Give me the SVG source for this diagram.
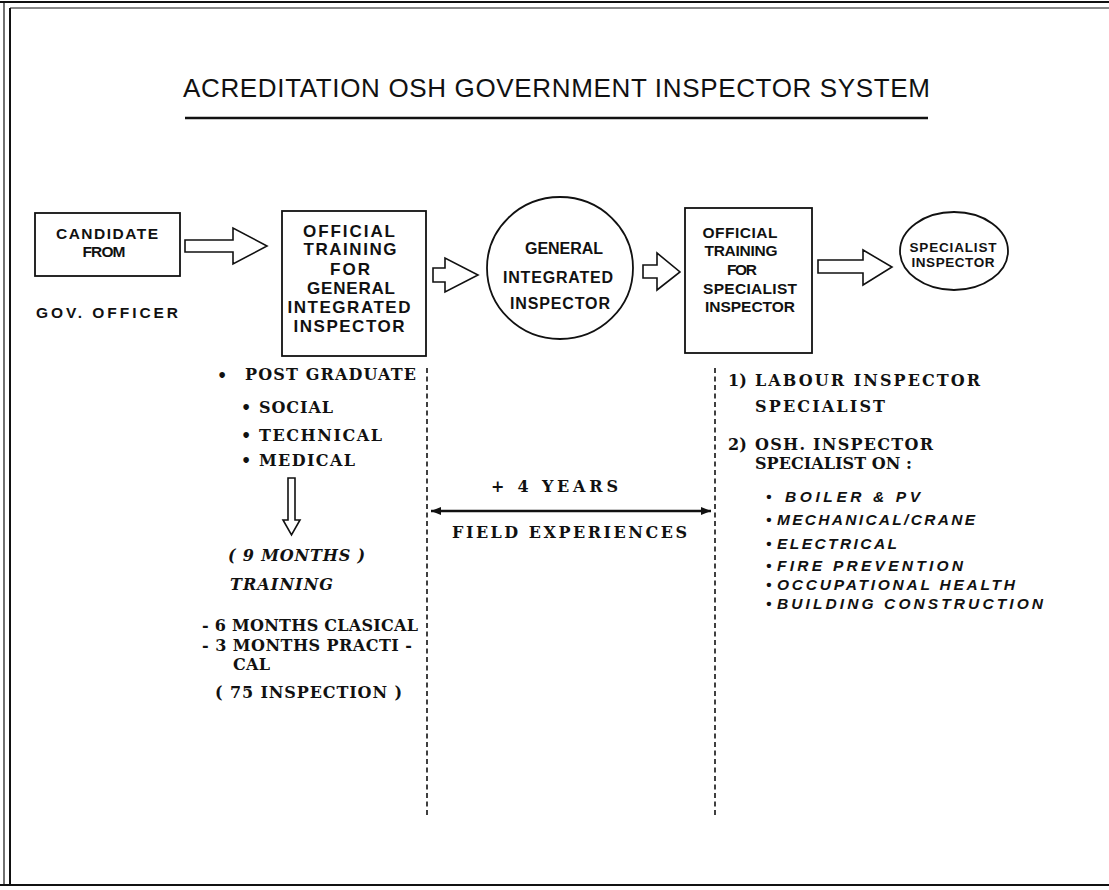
<svg xmlns="http://www.w3.org/2000/svg" width="1109" height="890" viewBox="0 0 1109 890">
  <defs>
    <style>
      .bg { fill: #ffffff; }
      .frame { stroke: #111; fill: none; }
      .box { fill: #ffffff; stroke: #111; stroke-width: 1.8; }
      .block { fill: #ffffff; stroke: #111; stroke-width: 1.6; stroke-linejoin: miter; }
      .sans { font-family: "Liberation Sans", Arial, sans-serif; font-weight: bold; fill: #111; }
      .title { font-family: "Liberation Sans", Arial, sans-serif; font-weight: normal; font-size: 26px; fill: #111; }
      .serif { font-family: "DejaVu Serif", "Liberation Serif", serif; font-weight: bold; font-size: 16px; fill: #111; }
      .serif-it { font-family: "DejaVu Serif", "Liberation Serif", serif; font-weight: bold; font-style: italic; font-size: 16px; fill: #111; }
      .list { font-family: "Liberation Sans", Arial, sans-serif; font-weight: bold; font-style: italic; font-size: 15.5px; fill: #111; }
      .divider { stroke: #111; stroke-width: 1.6; stroke-dasharray: 5 3.5; fill: none; }
      .span { stroke: #111; stroke-width: 2.4; fill: none; }
    </style>
    <marker id="head" viewBox="0 0 10 8" refX="10" refY="4" markerWidth="10" markerHeight="8" orient="auto-start-reverse" markerUnits="userSpaceOnUse">
      <path d="M0,0 L10,4 L0,8 z" fill="#111"/>
    </marker>
  </defs>

  <rect class="bg" x="0" y="0" width="1109" height="890"/>

  <!-- page frame -->
  <g id="frame">
    <line class="frame" x1="0" y1="2" x2="1109" y2="2" stroke-width="2"/>
    <line class="frame" x1="4" y1="2" x2="4" y2="886" stroke-width="1.2"/>
    <line class="frame" x1="10" y1="8" x2="10" y2="886" stroke-width="2"/>
    <line class="frame" x1="10" y1="8" x2="1109" y2="8" stroke-width="1"/>
    <line class="frame" x1="0" y1="885" x2="1109" y2="885" stroke-width="2"/>
  </g>

  <!-- heading -->
  <g id="heading">
    <text class="title" x="183" y="97" textLength="747" lengthAdjust="spacing">ACREDITATION OSH GOVERNMENT INSPECTOR SYSTEM</text>
    <line x1="185" y1="118" x2="928" y2="118" stroke="#111" stroke-width="2.4"/>
  </g>

  <!-- nodes -->
  <g id="candidate">
    <rect class="box" x="35" y="213" width="145" height="63"/>
    <text class="sans" font-size="15.5" x="107" y="239" text-anchor="middle" textLength="102" lengthAdjust="spacing">CANDIDATE</text>
    <text class="sans" font-size="15.5" x="104" y="257" text-anchor="middle" textLength="43" lengthAdjust="spacing">FROM</text>
    <text class="sans" font-size="15.5" x="36" y="318" textLength="142" lengthAdjust="spacing">GOV. OFFICER</text>
  </g>

  <g id="training-general">
    <rect class="box" x="282" y="211" width="144" height="145"/>
    <text class="sans" font-size="17" x="349" y="237" text-anchor="middle" textLength="92" lengthAdjust="spacing">OFFICIAL</text>
    <text class="sans" font-size="17" x="350" y="255" text-anchor="middle" textLength="93" lengthAdjust="spacing">TRAINING</text>
    <text class="sans" font-size="17" x="350" y="275" text-anchor="middle" textLength="40" lengthAdjust="spacing">FOR</text>
    <text class="sans" font-size="17" x="351" y="294" text-anchor="middle" textLength="88" lengthAdjust="spacing">GENERAL</text>
    <text class="sans" font-size="17" x="349" y="313" text-anchor="middle" textLength="123" lengthAdjust="spacing">INTEGRATED</text>
    <text class="sans" font-size="17" x="349" y="332" text-anchor="middle" textLength="111" lengthAdjust="spacing">INSPECTOR</text>
  </g>

  <g id="general-inspector">
    <ellipse class="box" cx="560" cy="268" rx="73" ry="71"/>
    <text class="sans" font-size="16" x="564" y="254" text-anchor="middle" textLength="78" lengthAdjust="spacing">GENERAL</text>
    <text class="sans" font-size="16" x="558" y="283" text-anchor="middle" textLength="110" lengthAdjust="spacing">INTEGRATED</text>
    <text class="sans" font-size="16" x="560" y="309" text-anchor="middle" textLength="100" lengthAdjust="spacing">INSPECTOR</text>
  </g>

  <g id="training-specialist">
    <rect class="box" x="685" y="208" width="127" height="145"/>
    <text class="sans" font-size="15.5" x="740" y="238" text-anchor="middle" textLength="75" lengthAdjust="spacing">OFFICIAL</text>
    <text class="sans" font-size="15.5" x="741" y="256" text-anchor="middle" textLength="73" lengthAdjust="spacing">TRAINING</text>
    <text class="sans" font-size="15.5" x="742" y="275" text-anchor="middle" textLength="30" lengthAdjust="spacing">FOR</text>
    <text class="sans" font-size="15.5" x="750" y="294" text-anchor="middle" textLength="94" lengthAdjust="spacing">SPECIALIST</text>
    <text class="sans" font-size="15.5" x="750" y="312" text-anchor="middle" textLength="90" lengthAdjust="spacing">INSPECTOR</text>
  </g>

  <g id="specialist-inspector">
    <ellipse class="box" cx="954" cy="251" rx="54" ry="39"/>
    <text class="sans" font-size="13.5" x="953" y="252" text-anchor="middle" textLength="87" lengthAdjust="spacing">SPECIALIST</text>
    <text class="sans" font-size="13.5" x="953" y="267" text-anchor="middle" textLength="83" lengthAdjust="spacing">INSPECTOR</text>
  </g>

  <!-- connectors -->
  <g id="connectors">
    <polygon class="block" points="185,240 233,240 233,228 267,246 233,264 233,252 185,252"/>
    <polygon class="block" points="433,268 445,268 445,258 478,275 445,292 445,282 433,282"/>
    <polygon class="block" points="643,265 657,265 657,253 680,272 657,290 657,278 643,278"/>
    <polygon class="block" points="818,260 863,260 863,250 892,267 863,285 863,273 818,273"/>
    <polygon class="block" points="288,478 295,478 295,520 300,520 291.5,535 283,520 288,520"/>
    <line class="span" x1="431" y1="511" x2="711" y2="511" marker-start="url(#head)" marker-end="url(#head)"/>
  </g>

  <!-- column dividers -->
  <g id="dividers">
    <line class="divider" x1="427" y1="368" x2="427" y2="816"/>
    <line class="divider" x1="715" y1="368" x2="715" y2="816"/>
  </g>

  <!-- entry requirements and general training -->
  <g id="general-notes">
    <text class="serif" x="217" y="381" font-size="18">•</text>
    <text class="serif" x="245" y="380" textLength="171" lengthAdjust="spacing">POST GRADUATE</text>
    <text class="serif" x="241" y="413" font-size="14">•</text>
    <text class="serif" x="259" y="413" textLength="74" lengthAdjust="spacing">SOCIAL</text>
    <text class="serif" x="241" y="441" font-size="14">•</text>
    <text class="serif" x="259" y="441" textLength="123" lengthAdjust="spacing">TECHNICAL</text>
    <text class="serif" x="241" y="466" font-size="14">•</text>
    <text class="serif" x="259" y="466" textLength="96" lengthAdjust="spacing">MEDICAL</text>
    <text class="serif-it" x="228" y="561" textLength="137" lengthAdjust="spacing">( 9 MONTHS )</text>
    <text class="serif-it" x="230" y="590" textLength="103" lengthAdjust="spacing">TRAINING</text>
    <text class="serif" x="202" y="631" textLength="216" lengthAdjust="spacing">- 6 MONTHS CLASICAL</text>
    <text class="serif" x="202" y="651" textLength="210" lengthAdjust="spacing">- 3 MONTHS PRACTI -</text>
    <text class="serif" x="233" y="670" textLength="37" lengthAdjust="spacing">CAL</text>
    <text class="serif" x="215" y="698" textLength="187" lengthAdjust="spacing">( 75 INSPECTION )</text>
  </g>

  <!-- field experience span -->
  <g id="field-notes">
    <text class="serif" x="491" y="492" textLength="127" lengthAdjust="spacing">+ 4 YEARS</text>
    <text class="serif" x="452" y="538" textLength="235" lengthAdjust="spacing">FIELD EXPERIENCES</text>
  </g>

  <!-- specialist tracks -->
  <g id="specialist-notes">
    <text class="serif" x="728" y="386">1)</text>
    <text class="serif" x="755" y="386" textLength="225" lengthAdjust="spacing">LABOUR INSPECTOR</text>
    <text class="serif" x="755" y="412" textLength="130" lengthAdjust="spacing">SPECIALIST</text>
    <text class="serif" x="728" y="450">2)</text>
    <text class="serif" x="755" y="450" textLength="178" lengthAdjust="spacing">OSH. INSPECTOR</text>
    <text class="serif" x="755" y="469" textLength="157" lengthAdjust="spacing">SPECIALIST ON :</text>

    <text class="list" x="766" y="502" font-size="12">•</text>
    <text class="list" x="785" y="502" textLength="135" lengthAdjust="spacing">BOILER &amp; PV</text>
    <text class="list" x="766" y="525" font-size="12">•</text>
    <text class="list" x="777" y="525" textLength="198" lengthAdjust="spacing">MECHANICAL/CRANE</text>
    <text class="list" x="766" y="549" font-size="12">•</text>
    <text class="list" x="777" y="549" textLength="120" lengthAdjust="spacing">ELECTRICAL</text>
    <text class="list" x="766" y="571" font-size="12">•</text>
    <text class="list" x="777" y="571" textLength="186" lengthAdjust="spacing">FIRE PREVENTION</text>
    <text class="list" x="766" y="590" font-size="12">•</text>
    <text class="list" x="777" y="590" textLength="238" lengthAdjust="spacing">OCCUPATIONAL HEALTH</text>
    <text class="list" x="766" y="609" font-size="12">•</text>
    <text class="list" x="777" y="609" textLength="266" lengthAdjust="spacing">BUILDING CONSTRUCTION</text>
  </g>
</svg>
